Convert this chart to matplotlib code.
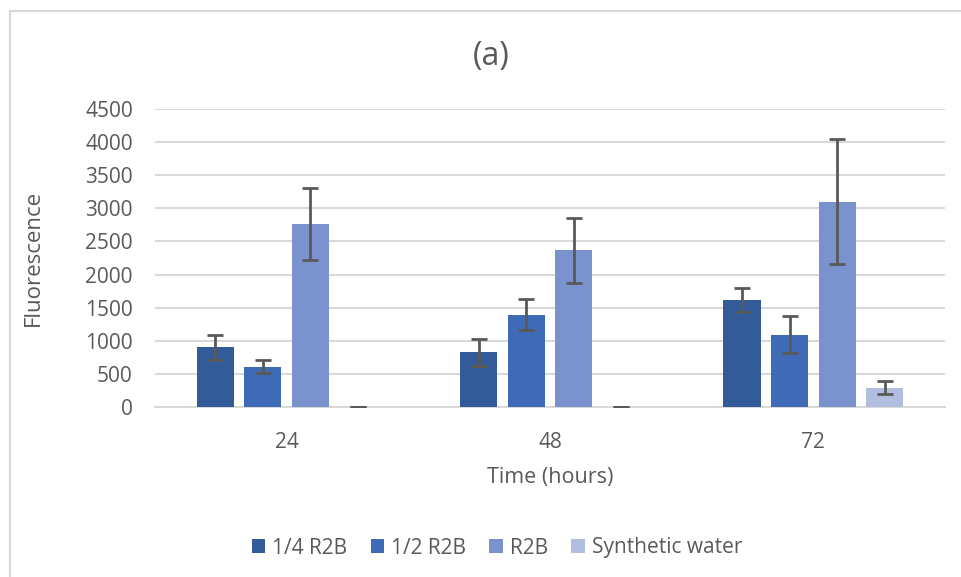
import matplotlib
matplotlib.use("Agg")
import matplotlib.pyplot as plt
from matplotlib.patches import Rectangle, Patch
import numpy as np

plt.rcParams['font.family'] = ['Open Sans', 'DejaVu Sans']

categories = ["24", "48", "72"]
series = ["1/4 R2B", "1/2 R2B", "R2B", "Synthetic water"]
values = {
    "1/4 R2B": [900, 823, 1616],
    "1/2 R2B": [608, 1396, 1091],
    "R2B": [2760, 2364, 3100],
    "Synthetic water": [2, 2, 292],
}
errors = {
    "1/4 R2B": [192, 205, 187],
    "1/2 R2B": [98, 237, 278],
    "R2B": [540, 495, 946],
    "Synthetic water": [1, 1, 98],
}
colors = ["#335A99", "#3F6BB6", "#7A93CE", "#B2BEE0"]
yticks = [0, 500, 1000, 1500, 2000, 2500, 3000, 3500, 4000, 4500]

txt = "#595959"
grid = "#D9D9D9"

fig = plt.figure(figsize=(9.61, 5.77), dpi=100)
fig.patches.append(Rectangle((10/961, -0.05), 1.2, 1 - 11/577 + 0.05,
                             transform=fig.transFigure, fill=False,
                             edgecolor=grid, linewidth=1.5))

ax = fig.add_axes([155/961, 1 - 407/577, 790/961, 298/577])
x = np.arange(len(categories))
step = 0.1806
width = 0.1407
for i, s in enumerate(series):
    off = (i - 1.5) * step
    ax.bar(x + off, values[s], width, color=colors[i], zorder=3,
           yerr=errors[s], error_kw=dict(ecolor="#595959", elinewidth=2,
                                          capsize=6, capthick=2, zorder=4),
           label=s)

ax.set_xlim(-0.5, 2.5)
ax.set_ylim(0, 4500)
ax.set_yticks(yticks)
ax.set_yticklabels([str(t) for t in yticks])
ax.set_xticks(x)
ax.set_xticklabels(categories)
ax.tick_params(axis='both', length=0, labelsize=15, labelcolor=txt)
ax.tick_params(axis='y', pad=16)
ax.tick_params(axis='x', pad=18)
ax.yaxis.grid(True, color=grid, linewidth=1.5, zorder=0)
ax.set_axisbelow(True)
for sp in ["top", "right", "left"]:
    ax.spines[sp].set_visible(False)
ax.spines["bottom"].set_color(grid)
ax.spines["bottom"].set_linewidth(1.5)

fig.text(491/961, 1 - 57/577, "(a)", ha="center", va="center", fontsize=23, color=txt)
fig.text(550/961, 1 - 478/577, "Time (hours)", ha="center", va="center", fontsize=15.5, color=txt)
fig.text(33/961, 1 - 258/577, "Fluorescence", ha="center", va="center", rotation=90,
         fontsize=16, color=txt)

handles = [Patch(facecolor=c, edgecolor='none') for c in colors]
fig.legend(handles, series, loc="center", bbox_to_anchor=(497/961, 1 - 548/577),
           ncol=4, frameon=False, fontsize=15, labelcolor=txt,
           handlelength=0.65, handleheight=0.65, handletextpad=0.35, columnspacing=1.1)

fig.savefig("out.png", dpi=100, facecolor="white")
